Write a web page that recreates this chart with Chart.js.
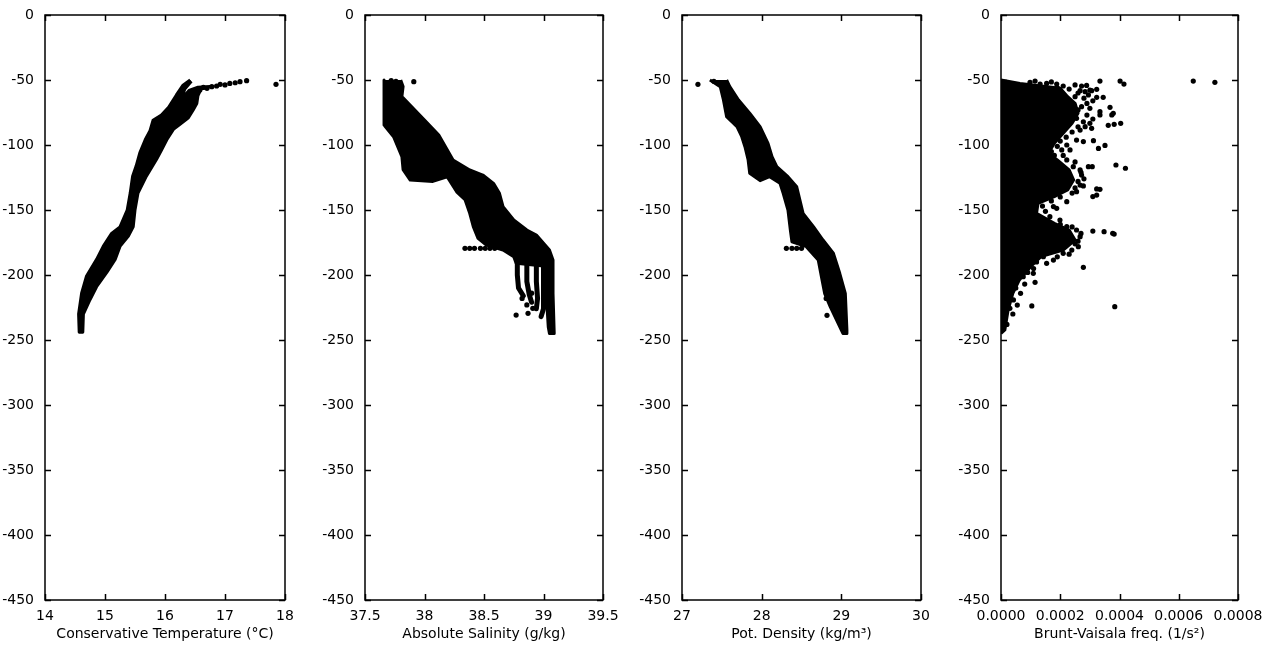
<!DOCTYPE html>
<html>
<head>
<meta charset="utf-8">
<script src="https://cdn.jsdelivr.net/npm/chart.js@4.4.1/dist/chart.umd.min.js"></script>
<style>
  html, body { margin: 0; padding: 0; background: #fff; }
  #wrap { position: relative; width: 1276px; height: 648px; overflow: hidden; background: #fff; }
  canvas { position: absolute; top: 0; }
</style>
</head>
<body>
<div id="wrap">
  <canvas id="pTemp" width="315" height="648" style="left:0px"></canvas>
  <canvas id="pSal" width="313" height="648" style="left:320px"></canvas>
  <canvas id="pDens" width="314" height="648" style="left:637px"></canvas>
  <canvas id="pN2" width="312" height="648" style="left:956px"></canvas>
</div>
<script>
// depth axis shared by every panel (m, negative down)
const depthMin = -450;
const depthMax = 0;
const depthStep = 50;

// --- Conservative Temperature (°C) vs depth ---
// outline of the dense band of casts: [value, depth], down the left side then back up the right
const tempBand = [
  [16.42,-50],[16.30,-54],[16.19,-61.5],[16.06,-71],[15.94,-77],[15.80,-81],[15.75,-89],[15.67,-96],
  [15.58,-106],[15.52,-116],[15.46,-124],[15.42,-137],[15.37,-150],[15.25,-163],[15.11,-168],
  [14.97,-178],[14.86,-188],[14.69,-201],[14.61,-214],[14.56,-230],[14.57,-244],
  [14.63,-244],[14.64,-230],[14.75,-219],[14.86,-209],[15.03,-198],[15.17,-188],[15.25,-178],
  [15.39,-170],[15.47,-163],[15.50,-150],[15.55,-137],[15.69,-124],[15.86,-111],[15.94,-104],
  [16.03,-96],[16.14,-88],[16.25,-84],[16.39,-79],[16.47,-73],[16.53,-68],[16.55,-62],[16.60,-57],
  [16.75,-55],[16.55,-55.5],[16.40,-58],[16.27,-65],[16.33,-57],[16.44,-51]
];
const tempDots = [
  [16.58,-57.7],[16.64,-55.6],[16.70,-56.4],[16.78,-55.1],[16.86,-54.6],[16.92,-53.3],[17.00,-53.8],
  [17.08,-52.6],[17.17,-52.1],[17.25,-51.3],[17.36,-50.5],[17.85,-53.3]
];
const tempCasts = [];

// --- Absolute Salinity (g/kg) vs depth ---
const salBand = [
  [37.66,-50],[37.66,-65],[37.66,-84.6],[37.74,-93.6],[37.81,-109],[37.82,-119],[37.88,-127],
  [38.07,-128],[38.19,-124.4],[38.27,-136],[38.34,-142],[38.38,-152.6],[38.41,-162.8],[38.45,-171.8],
  [38.52,-177],[38.66,-180.8],[38.75,-186],[38.77,-191],[39.00,-193],[39.02,-200],[39.03,-225],
  [39.04,-240],[39.05,-245],
  [39.09,-245],[39.08,-214],[39.08,-188.5],[39.05,-180.8],[38.94,-169.2],[38.86,-165.4],[38.75,-157.7],
  [38.66,-147.4],[38.63,-137.2],[38.58,-129.5],[38.49,-123.1],[38.38,-119.2],[38.24,-111.5],
  [38.12,-92.3],[38.00,-80.8],[37.81,-62.8],[37.82,-55],[37.80,-50]
];
// separate casts that leave the band near the bottom
const salCasts = [
  [[38.78,-189],[38.78,-200],[38.79,-210],[38.83,-216]],
  [[38.86,-189],[38.86,-205],[38.88,-215],[38.90,-221]],
  [[38.94,-189],[38.94,-205],[38.95,-218],[38.94,-226]],
  [[39.00,-190],[39.00,-212],[39.00,-226],[38.98,-232]]
];
const salDots = [
  [37.91,-51.3],[37.72,-50.5],[37.76,-51],
  [38.34,-179.5],[38.38,-179.5],[38.42,-179.5],[38.47,-179.5],[38.51,-179.5],[38.55,-179.5],[38.59,-179.5],
  [38.82,-218],[38.86,-223],[38.91,-225.6],[38.77,-230.8],[38.87,-229.5],[38.90,-214]
];

// --- Potential density (kg/m3) vs depth ---
const densBand = [
  [27.35,-50],[27.48,-55.1],[27.52,-65.4],[27.56,-78.2],[27.69,-85.9],[27.75,-93.6],[27.79,-101.3],
  [27.83,-111.5],[27.85,-121.8],[27.98,-127.4],[28.10,-124.4],[28.23,-129.5],[28.27,-137.2],
  [28.33,-150],[28.36,-165.4],[28.38,-174.4],[28.56,-178.2],[28.71,-188.5],[28.75,-201.3],
  [28.79,-214.1],[28.86,-224.4],[29.00,-242.3],[29.02,-245],
  [29.07,-245],[29.07,-242.3],[29.05,-214.1],[28.98,-198.7],[28.90,-183.3],[28.77,-173.1],
  [28.65,-162.8],[28.52,-152.6],[28.48,-142.3],[28.44,-132.1],[28.33,-124.4],[28.19,-116.7],
  [28.13,-109],[28.08,-98.7],[27.98,-85.9],[27.85,-75.6],[27.71,-65.4],[27.60,-55.1],[27.56,-50]
];
const densDots = [
  [27.20,-53.3],[27.40,-51],[27.45,-52],
  [28.31,-179.5],[28.38,-179.5],[28.44,-179.5],[28.50,-179.5],
  [28.82,-231],[28.90,-224],[28.94,-219],[28.81,-218]
];
const densCasts = [];

// --- Brunt-Vaisala frequency (1/s2) vs depth ---
const n2Band = [
  [0,-50],[0.000064,-52.6],[0.000200,-56.4],[0.000225,-62.8],[0.000250,-67.9],[0.000260,-75.6],
  [0.000240,-83.3],[0.000210,-91],[0.000180,-98.7],[0.000160,-106.4],[0.000190,-111.5],
  [0.000230,-119.2],[0.000245,-126.9],[0.000225,-134.6],[0.000180,-139.7],[0.000125,-144.9],
  [0.000120,-152.6],[0.000180,-160.3],[0.000230,-165.4],[0.000250,-173.1],[0.000210,-180.8],
  [0.000135,-185.9],[0.000100,-193.6],[0.000062,-203.8],[0.000040,-214.1],[0.000024,-226.9],
  [0.000013,-242.3],[0,-245]
];
const n2Dots = [
  [0.000098,-51.8],[0.000115,-50.8],[0.000132,-53.1],[0.000154,-52.6],[0.000188,-53.1],[0.000210,-54.6],
  [0.000250,-53.8],[0.000272,-54.6],[0.000289,-54.2],[0.000300,-57.7],[0.000284,-59.0],[0.000267,-58.2],
  [0.000306,-58.2],[0.000323,-57.2],[0.000334,-50.8],[0.000402,-50.8],[0.000415,-53.1],[0.000649,-50.8],
  [0.000722,-51.8],[0.000250,-62.8],[0.000295,-61.5],[0.000323,-63.3],[0.000345,-63.3],[0.000272,-70.5],
  [0.000300,-71.8],[0.000334,-74.4],[0.000368,-71.0],[0.000379,-75.6],[0.000374,-76.9],[0.000334,-76.9],
  [0.000255,-79.5],[0.000278,-82.1],[0.000300,-83.3],[0.000284,-85.9],[0.000267,-88.5],[0.000306,-87.2],
  [0.000362,-84.9],[0.000382,-84.1],[0.000404,-83.3],[0.000255,-96.2],[0.000278,-97.4],[0.000312,-96.7],
  [0.000222,-100.0],[0.000233,-103.8],[0.000205,-103.8],[0.000329,-102.6],[0.000351,-100.3],
  [0.000222,-111.5],[0.000244,-116.7],[0.000267,-119.2],[0.000295,-116.7],[0.000308,-116.7],
  [0.000388,-115.4],[0.000420,-117.9],[0.000272,-123.1],[0.000267,-130.8],[0.000278,-131.5],
  [0.000323,-133.8],[0.000334,-134.1],[0.000310,-139.7],[0.000323,-138.5],[0.000255,-135.9],
  [0.000222,-143.6],[0.000188,-148.7],[0.000177,-147.4],[0.000165,-155.1],[0.000199,-157.7],
  [0.000222,-162.8],[0.000255,-165.4],[0.000267,-170.5],[0.000261,-178.2],[0.000239,-180.8],
  [0.000210,-183.3],[0.000310,-166.2],[0.000348,-166.7],[0.000377,-167.9],[0.000382,-168.5],
  [0.000177,-188.5],[0.000154,-191.0],[0.000143,-185.9],[0.000278,-194.1],[0.000115,-205.6],
  [0.000109,-198.7],[0.000075,-201.3],[0.000066,-214.1],[0.000055,-223.1],[0.000104,-223.8],
  [0.000384,-224.4],[0.000030,-225.6],[0.000042,-219.2],
  [0.000170,-51.5],[0.000190,-56.0],[0.000230,-57.0],[0.000260,-60.0],[0.000280,-64.0],[0.000290,-68.0],
  [0.000310,-66.0],[0.000260,-73.0],[0.000290,-77.0],[0.000310,-80.0],[0.000260,-86.0],[0.000240,-90.0],
  [0.000220,-94.0],[0.000200,-97.0],[0.000190,-101.0],[0.000170,-105.0],[0.000180,-108.0],[0.000210,-108.0],
  [0.000250,-113.0],[0.000270,-121.0],[0.000280,-126.0],[0.000260,-128.0],[0.000250,-133.0],[0.000240,-137.0],
  [0.000200,-140.0],[0.000170,-143.0],[0.000140,-147.0],[0.000150,-151.0],[0.000160,-159.0],[0.000200,-161.0],
  [0.000240,-163.0],[0.000270,-168.0],[0.000260,-174.0],[0.000250,-176.0],[0.000230,-184.0],[0.000190,-186.0],
  [0.000120,-190.0],[0.000110,-195.0],[0.000090,-198.0],[0.000080,-207.0],[0.000050,-210.0],[0.000040,-230.0],
  [0.000020,-238.0]
];
const n2Casts = [];

Chart.defaults.font.family = "'DejaVu Sans', sans-serif";
Chart.defaults.font.size = 14;
Chart.defaults.color = '#000';

const asPoints = rows => rows.map(r => ({ x: r[0], y: r[1] }));

// MATLAB-like box with inward ticks on all four sides
const boxPlugin = {
  id: 'boxTicks',
  afterDraw(chart) {
    const { ctx, chartArea: a } = chart;
    const xs = chart.scales.x, ys = chart.scales.y;
    ctx.save();
    ctx.strokeStyle = '#000';
    ctx.lineWidth = 1.5;
    ctx.beginPath();
    for (const t of xs.ticks) {
      const px = Math.round(xs.getPixelForValue(t.value)) + 0.5;
      ctx.moveTo(px, a.bottom);
      ctx.lineTo(px, a.bottom - 6);
      ctx.moveTo(px, a.top);
      ctx.lineTo(px, a.top + 6);
    }
    for (const t of ys.ticks) {
      const py = Math.round(ys.getPixelForValue(t.value)) + 0.5;
      ctx.moveTo(a.left, py);
      ctx.lineTo(a.left + 6, py);
      ctx.moveTo(a.right, py);
      ctx.lineTo(a.right - 6, py);
    }
    ctx.stroke();
    ctx.strokeRect(a.left, a.top, a.right - a.left, a.bottom - a.top);
    ctx.restore();
  }
};

function drawProfile(canvasId, band, casts, dots, xMin, xMax, xStep, xTitle, fmt) {
  const el = document.getElementById(canvasId);
  const datasets = [{
    data: asPoints(band),
    showLine: true,
    fill: 'shape',
    tension: 0,
    backgroundColor: '#000',
    borderColor: '#000',
    borderWidth: 3,
    borderJoinStyle: 'round',
    pointRadius: 0
  }];
  casts.forEach(c => datasets.push({
    data: asPoints(c),
    showLine: true,
    fill: false,
    tension: 0,
    borderColor: '#000',
    borderWidth: 5,
    borderCapStyle: 'round',
    borderJoinStyle: 'round',
    pointRadius: 0
  }));
  datasets.push({
    data: asPoints(dots),
    backgroundColor: '#000',
    borderWidth: 0,
    pointRadius: 2.6
  });

  return new Chart(el, {
    type: 'scatter',
    data: { datasets },
    options: {
      responsive: false,
      animation: false,
      events: [],
      layout: { padding: { top: 15, right: 30, left: 0, bottom: 0 } },
      plugins: { legend: { display: false }, tooltip: { enabled: false } },
      scales: {
        x: {
          type: 'linear',
          min: xMin,
          max: xMax,
          grid: { display: false },
          border: { display: false },
          ticks: {
            stepSize: xStep,
            padding: 0,
            autoSkip: false,
            maxRotation: 0,
            minRotation: 0,
            callback: fmt
          },
          title: { display: true, text: xTitle, padding: { top: 0, bottom: 5 } },
          afterFit: s => { s.height = 48; }
        },
        y: {
          type: 'linear',
          min: depthMin,
          max: depthMax,
          grid: { display: false },
          border: { display: false },
          ticks: { stepSize: depthStep, padding: 3, callback: v => String(v) },
          afterFit: s => { s.width = 45; }
        }
      }
    },
    plugins: [boxPlugin]
  });
}

drawProfile('pTemp', tempBand, tempCasts, tempDots, 14, 18, 1, 'Conservative Temperature (°C)', v => String(v));
drawProfile('pSal', salBand, salCasts, salDots, 37.5, 39.5, 0.5, 'Absolute Salinity (g/kg)', v => String(v));
drawProfile('pDens', densBand, densCasts, densDots, 27, 30, 1, 'Pot. Density (kg/m³)', v => String(v));
drawProfile('pN2', n2Band, n2Casts, n2Dots, 0, 0.0008, 0.0002, 'Brunt-Vaisala freq. (1/s²)', v => Number(v).toFixed(4));
</script>
</body>
</html>
